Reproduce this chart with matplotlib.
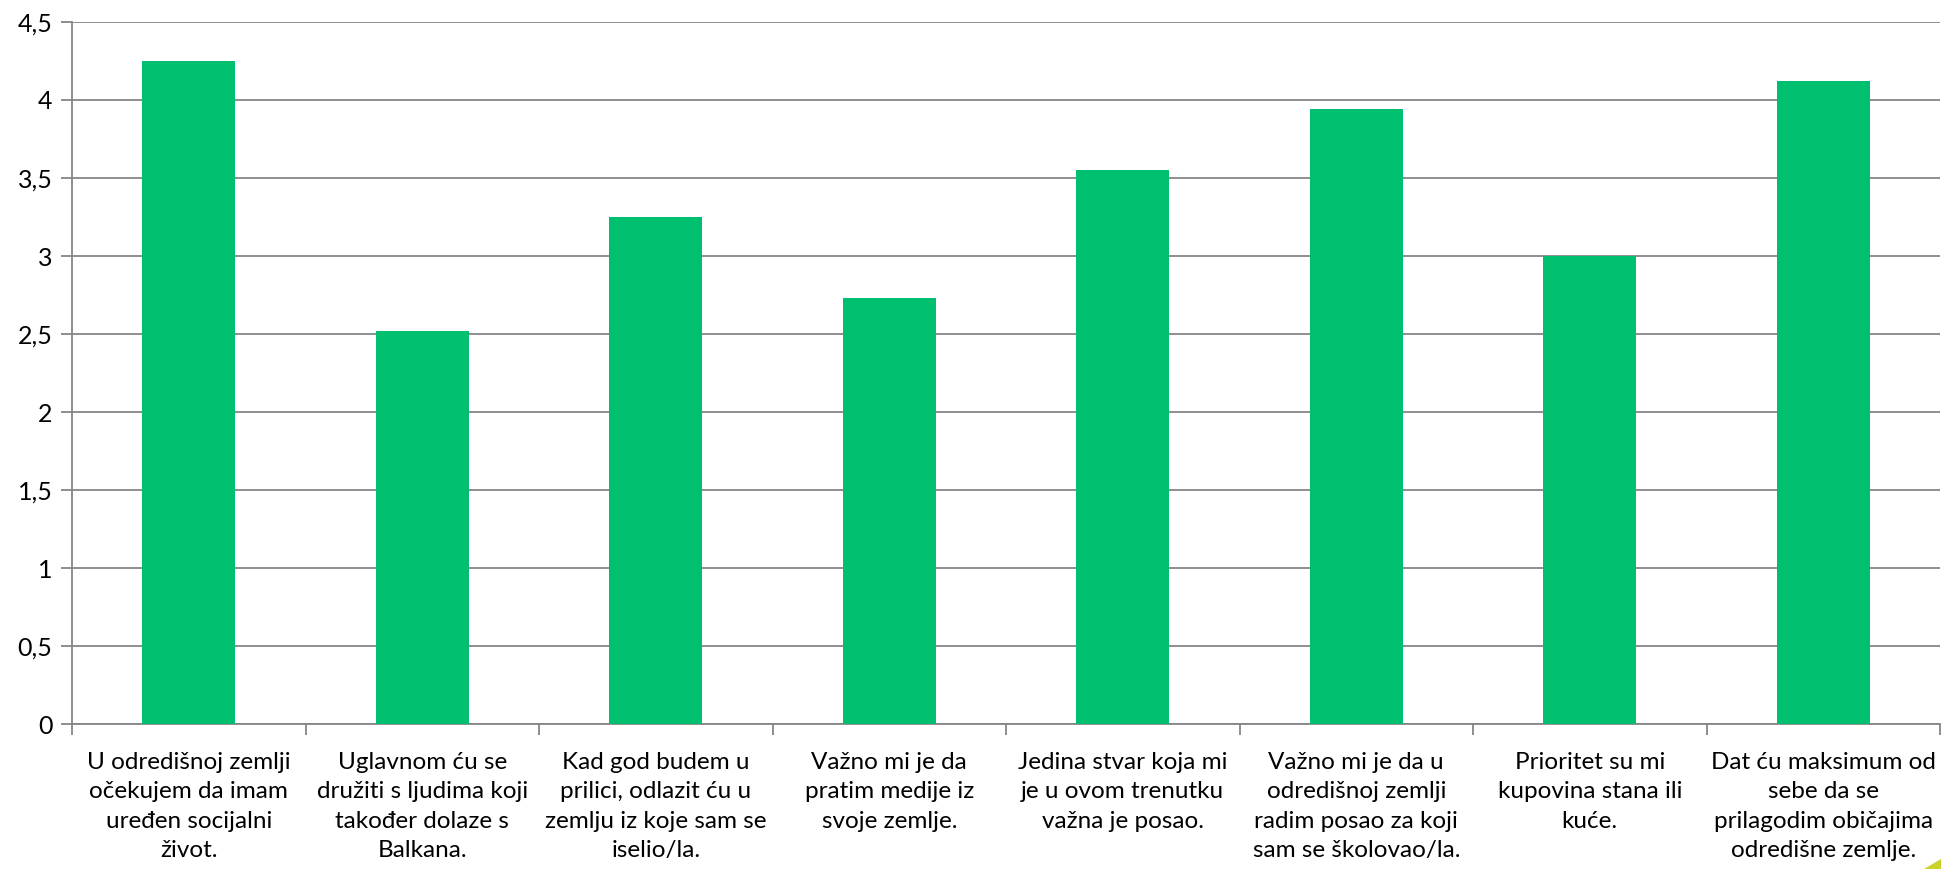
import numpy as np
import matplotlib
matplotlib.use("Agg")
import matplotlib.pyplot as plt
from matplotlib.ticker import FuncFormatter
from matplotlib.patches import Polygon

# data
labels = [
    "U odredišnoj zemlji\nočekujem da imam\nuređen socijalni\nživot.",
    "Uglavnom ću se\ndružiti s ljudima koji\ntakođer dolaze s\nBalkana.",
    "Kad god budem u\nprilici, odlazit ću u\nzemlju iz koje sam se\niselio/la.",
    "Važno mi je da\npratim medije iz\nsvoje zemlje.",
    "Jedina stvar koja mi\nje u ovom trenutku\nvažna je posao.",
    "Važno mi je da u\nodredišnoj zemlji\nradim posao za koji\nsam se školovao/la.",
    "Prioritet su mi\nkupovina stana ili\nkuće.",
    "Dat ću maksimum od\nsebe da se\nprilagodim običajima\nodredišne zemlje.",
]
values = [4.25, 2.52, 3.25, 2.73, 3.55, 3.94, 3.0, 4.12]
y_ticks = [0, 0.5, 1, 1.5, 2, 2.5, 3, 3.5, 4, 4.5]

plt.rcParams['font.family'] = ['Lato', 'DejaVu Sans']

fig = plt.figure(figsize=(19.41, 8.69), dpi=100)
ax = fig.add_axes([0.0371, 0.1668, 0.9624, 0.8079])

x = np.arange(len(values))
ax.bar(x, values, width=0.4, color='#00BF6F', zorder=3)

ax.set_xlim(-0.5, len(values) - 0.5)
ax.set_ylim(0, 4.5)
ax.set_yticks(y_ticks)
ax.yaxis.set_major_formatter(FuncFormatter(lambda v, p: ('%g' % v).replace('.', ',')))
ax.yaxis.grid(True, color='#868686', linewidth=1.3, zorder=0)

# category labels between boundary ticks
ax.set_xticks(x)
ax.set_xticklabels(labels, fontsize=17.5, linespacing=1.5, va='top')
ax.tick_params(axis='x', length=0, pad=20)
ax.set_xticks(np.arange(len(values) + 1) - 0.5, minor=True)
ax.tick_params(axis='x', which='minor', length=8, color='#868686', width=1.3)
ax.tick_params(axis='y', length=8, color='#868686', width=1.3, labelsize=18, pad=6)

for s in ['top', 'right']:
    ax.spines[s].set_visible(False)
for s in ['left', 'bottom']:
    ax.spines[s].set_color('#868686')
    ax.spines[s].set_linewidth(1.3)

# small slide decoration in bottom right corner
fig.patches.append(Polygon([[0.991, 0.0], [1.0, 0.0], [1.0, 0.011]], closed=True,
                           transform=fig.transFigure, facecolor='#C9D32A', edgecolor='none'))

fig.savefig('out.png', dpi=100, facecolor='white')
